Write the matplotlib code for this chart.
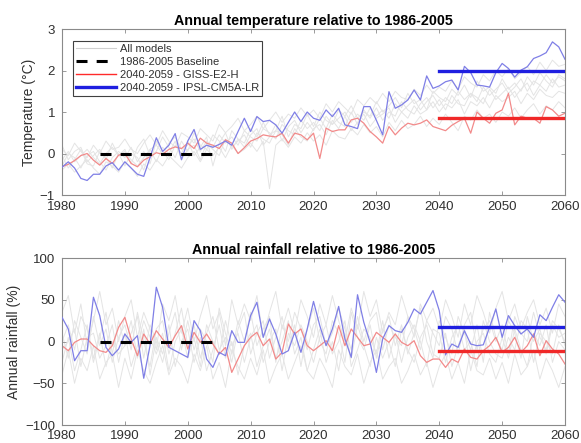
import numpy as np
import matplotlib
matplotlib.use("Agg")
import matplotlib.pyplot as plt
from matplotlib.lines import Line2D

plt.rcParams['font.family'] = ['Liberation Sans', 'DejaVu Sans']

years = np.arange(1980, 2061)

# ---- Annual temperature anomaly (deg C) ----
temp_giss = [
    -0.32, -0.26, -0.17, -0.05, 0.00, -0.16, -0.28, -0.12, -0.24, -0.04,
    0.00, -0.24, -0.32, -0.16, -0.08, 0.02, -0.02, 0.10, 0.16, 0.12,
    0.25, 0.12, 0.37, 0.25, 0.20, 0.12, 0.33, 0.25, 0.00, 0.14,
    0.30, 0.36, 0.45, 0.42, 0.40, 0.49, 0.25, 0.49, 0.45, 0.33,
    0.49, -0.12, 0.61, 0.53, 0.57, 0.57, 0.81, 0.85, 0.73, 0.53,
    0.40, 0.25, 0.65, 0.45, 0.61, 0.73, 0.69, 0.73, 0.81, 0.65,
    0.60, 0.55, 0.68, 0.77, 0.85, 0.49, 1.00, 0.85, 0.73, 0.97,
    1.05, 1.45, 0.69, 0.90, 0.85, 0.85, 0.73, 1.13, 1.05, 0.90,
    0.97]
temp_ipsl = [
    -0.33, -0.20, -0.35, -0.60, -0.65, -0.50, -0.50, -0.30, -0.22, -0.40,
    -0.20, -0.35, -0.50, -0.55, -0.10, 0.38, 0.05, 0.20, 0.48, -0.15,
    0.30, 0.58, 0.10, 0.20, 0.15, 0.22, 0.30, 0.20, 0.53, 0.85,
    0.53, 0.89, 0.77, 0.80, 0.69, 0.49, 0.75, 1.00, 0.77, 1.00,
    0.85, 0.80, 1.05, 0.89, 1.09, 0.69, 0.65, 0.60, 1.13, 1.13,
    0.80, 0.45, 1.49, 1.09, 1.17, 1.29, 1.53, 1.29, 1.87, 1.57,
    1.63, 1.73, 1.77, 1.53, 2.10, 1.95, 1.65, 1.63, 1.60, 1.95,
    2.17, 2.05, 1.84, 2.01, 2.09, 2.29, 2.35, 2.43, 2.69, 2.57,
    2.27]
temp_models = [
    [-0.15, 0.05, -0.20, -0.05, 0.10, -0.10, -0.25, 0.00, 0.15, -0.05,
     0.05, -0.15, -0.30, -0.10, 0.10, 0.20, 0.00, 0.25, 0.40, 0.10,
     0.20, 0.35, 0.05, 0.30, 0.15, 0.45, 0.25, 0.40, 0.20, 0.55,
     0.40, 0.30, 0.60, 0.50, 0.35, 0.70, 0.55, 0.45, 0.80, 0.60,
     0.75, 0.55, 0.90, 0.70, 0.85, 1.00, 0.75, 0.95, 0.80, 1.10,
     0.90, 1.05, 0.85, 1.20, 1.00, 1.15, 1.30, 1.05, 1.25, 1.40,
     1.15, 1.35, 1.20, 1.50, 1.30, 1.45, 1.25, 1.60, 1.40, 1.55,
     1.70, 1.45, 1.60, 1.80, 1.50, 1.75, 1.65, 1.90, 1.70, 1.85, 1.75],
    [-0.40, -0.25, -0.45, -0.30, -0.15, -0.35, -0.50, -0.20, -0.30, -0.45,
     -0.20, -0.35, -0.55, -0.25, -0.40, -0.15, -0.30, -0.05, -0.20, -0.35,
     -0.10, 0.05, -0.20, 0.10, -0.05, 0.15, -0.10, 0.20, 0.00, 0.10,
     0.25, 0.05, 0.30, -0.85, 0.20, 0.35, 0.15, 0.40, 0.25, 0.50,
     0.30, 0.45, 0.20, 0.55, 0.40, 0.35, 0.60, 0.45, 0.70, 0.50,
     0.65, 0.40, 0.75, 0.55, 0.80, 0.60, 0.70, 0.90, 0.65, 0.85,
     0.70, 0.95, 0.75, 0.55, 0.90, 0.80, 1.05, 0.85, 0.95, 0.75,
     1.00, 0.90, 1.10, 0.85, 1.05, 1.20, 0.95, 1.15, 1.05, 1.25, 1.10],
    [0.10, -0.05, 0.25, 0.05, -0.10, 0.20, 0.00, 0.30, 0.10, 0.15,
     0.35, 0.10, 0.00, 0.25, 0.45, 0.20, 0.55, 0.30, 0.15, 0.50,
     0.40, 0.25, 0.60, 0.45, 0.30, 0.70, 0.50, 0.65, 0.85, 0.55,
     0.70, 0.90, 0.60, 0.80, 1.00, 0.75, 0.95, 0.85, 1.10, 0.90,
     1.05, 0.85, 1.20, 1.00, 1.25, 1.10, 0.95, 1.30, 1.15, 1.35,
     1.20, 1.45, 1.25, 1.50, 1.35, 1.30, 1.55, 1.40, 1.65, 1.45,
     1.60, 1.50, 1.75, 1.55, 1.85, 1.70, 1.60, 1.90, 1.75, 2.00,
     1.85, 2.05, 1.80, 1.95, 2.10, 1.90, 2.20, 2.00, 2.25, 2.10, 2.15],
    [-0.30, 0.00, -0.10, -0.35, -0.05, 0.05, -0.20, -0.40, -0.10, 0.05,
     -0.10, 0.15, -0.20, 0.05, -0.25, 0.30, 0.05, -0.15, 0.20, 0.00,
     0.30, -0.05, 0.15, 0.40, -0.30, 0.25, 0.50, 0.10, 0.35, 0.15,
     0.45, 0.60, 0.20, 0.40, 0.70, 0.30, 0.65, 0.80, 0.50, 0.75,
     0.55, 0.85, 0.60, 0.95, 0.75, 0.65, 1.00, 0.70, 1.05, 0.85,
     1.10, 0.80, 1.00, 0.90, 1.25, 1.05, 0.95, 1.20, 1.35, 1.10,
     1.30, 1.05, 1.40, 1.20, 1.15, 1.45, 1.35, 1.20, 1.55, 1.30,
     1.45, 1.60, 1.35, 1.55, 1.70, 1.40, 1.65, 1.50, 1.80, 1.60, 1.65],
    [0.20, -0.15, 0.05, 0.15, -0.20, -0.05, 0.10, -0.15, 0.25, -0.05,
     0.10, -0.25, 0.15, 0.35, -0.05, 0.05, 0.40, 0.15, -0.10, 0.30,
     0.05, 0.50, 0.20, 0.10, 0.45, 0.30, 0.05, 0.55, 0.35, 0.25,
     0.60, 0.40, 0.75, 0.45, 0.55, 0.90, 0.40, 0.70, 0.60, 0.95,
     0.65, 1.00, 0.80, 0.70, 1.05, 0.90, 1.15, 0.85, 1.00, 0.90,
     1.25, 1.00, 1.15, 1.35, 1.10, 1.45, 1.20, 1.30, 1.05, 1.50,
     1.35, 1.25, 1.55, 1.40, 1.65, 1.35, 1.75, 1.50, 1.60, 1.45,
     1.80, 1.55, 1.70, 1.50, 1.85, 1.65, 1.95, 1.75, 1.60, 1.90, 1.80],
    [-0.05, -0.35, -0.15, 0.10, -0.25, -0.30, 0.05, -0.10, -0.35, 0.00,
     -0.30, 0.00, -0.10, -0.40, 0.10, -0.20, 0.15, 0.00, 0.30, -0.15,
     0.10, 0.20, -0.15, 0.25, 0.10, -0.05, 0.35, 0.15, 0.30, 0.45,
     0.15, 0.50, 0.35, 0.25, 0.55, 0.45, 0.20, 0.60, 0.40, 0.30,
     0.60, 0.70, 0.45, 0.80, 0.60, 0.90, 0.55, 0.75, 0.95, 0.65,
     0.85, 0.95, 1.10, 0.75, 1.00, 0.85, 1.15, 0.95, 1.05, 1.25,
     1.00, 1.20, 1.10, 1.30, 0.95, 1.25, 1.15, 1.35, 1.10, 1.40,
     1.25, 1.35, 1.50, 1.20, 1.45, 1.30, 1.55, 1.40, 1.35, 1.50, 1.45],
]
temp_future_mean = {'GISS-E2-H': 0.85, 'IPSL-CM5A-LR': 2.00}

# ---- Annual rainfall anomaly (%) ----
rain_giss = [
    -5, -11, -1, 3, 3, -5, -11, -13, -5, 17,
    29, 3, -17, 9, -3, 13, 3, -7, 7, 19,
    -9, 11, -1, 9, -3, -15, -7, -37, -21, -5,
    5, 11, -5, 3, -21, -13, 21, 9, 15, -5,
    -11, -5, 1, -11, 19, -5, 15, 5, -5, -3,
    11, 5, -1, 9, -1, -5, 1, -17, -25, -21,
    -21, -31, -21, -25, -9, -19, -21, -11, -5, 5,
    -13, -7, 5, -13, -5, 9, -17, 1, -9, -15,
    -27]
rain_ipsl = [
    29, 15, -23, -11, -11, 53, 31, -7, -17, -9,
    9, -1, 7, -44, -5, 65, 41, -7, -11, -15,
    -19, 25, 13, -21, -31, -13, -17, 13, -1, -1,
    31, 47, 5, 27, 9, -15, -11, 11, -13, 15,
    48, 19, -5, 15, 42, 3, -19, 56, 23, -1,
    -37, 3, 19, 13, 11, 23, 39, 33, 47, 61,
    37, -16, -3, -7, 13, -3, -5, -4, 17, 39,
    5, 31, 19, 9, 15, 5, 32, 25, 41, 56,
    47]
rain_models = [
    [10, -20, 25, 5, -15, 30, -5, 15, -25, 5,
     20, -10, 35, 0, -30, 15, 25, -15, 10, 40,
     -5, 20, -20, 10, 30, -10, 5, -25, 15, 35,
     -15, 10, 25, -20, 5, 30, -10, 20, -30, 15,
     40, 0, -15, 25, 10, -25, 35, 5, -10, 20,
     -20, 15, 30, -5, 20, -15, 10, 40, 0, -20,
     25, 5, -15, 30, 10, -10, 20, -25, 35, 5,
     -10, 25, 10, -20, 30, 0, 15, -15, 20, 5, 10],
    [-25, 5, -35, -10, 20, -20, 10, -30, 0, -15,
     -5, 25, -20, 15, -40, 5, -15, 20, -30, 0,
     15, -25, 5, -35, -10, 20, -20, 0, -40, -5,
     10, -30, -5, 15, -20, 0, 25, -15, 5, -35,
     -10, 15, -25, 0, -35, 10, -20, 20, -5, -30,
     5, -20, 0, -30, 15, -10, -25, 5, 20, -15,
     -20, 10, -30, -5, 15, -35, 0, 10, -15, -25,
     5, -20, 15, -10, -30, 10, -5, 20, -25, 0, -10],
    [35, 55, 10, 45, -5, 25, 60, 20, 40, 0,
     30, 50, 5, 35, 15, -10, 45, 25, 55, 10,
     40, 0, 30, 55, 15, 35, -5, 50, 20, 45,
     25, 55, 5, 35, 60, 15, 40, 10, 50, 30,
     5, 45, 20, 55, 25, 0, 40, 15, 60, 30,
     50, 10, 35, 20, 55, 30, 5, 45, 25, 40,
     15, 50, 30, 5, 45, 20, 55, 35, 10, 40,
     60, 25, 45, 15, 35, 50, 20, 40, 10, 45, 30],
    [-40, -10, -50, -20, -35, -5, -45, -25, -15, -55,
     -20, -45, -10, -35, -50, -25, -5, -40, -20, -30,
     -50, -15, -35, -5, -45, -25, -55, -10, -30, -45,
     -20, -40, -10, -50, -30, -15, -45, -25, -5, -35,
     -45, -20, -35, -55, -10, -30, -40, -15, -50, -25,
     -10, -45, -30, -20, -50, -35, -15, -40, -25, -55,
     -30, -15, -45, -25, -50, -10, -35, -40, -20, -45,
     -25, -50, -15, -40, -30, -10, -45, -20, -35, -55, -30],
    [0, 20, -10, 30, 15, -25, 5, 35, -15, 25,
     -5, 10, 30, -20, 20, 0, -25, 10, 35, -10,
     25, -10, 15, 0, -25, 40, 10, -15, 25, 0,
     35, -5, 15, 30, -25, 20, 0, 35, 15, -10,
     20, 30, -5, 10, 40, 15, -10, 30, 0, 25,
     35, -10, 20, 5, -5, 30, 15, -10, 25, 10,
     -5, 30, 15, -15, 20, 35, -10, 15, 25, 0,
     20, -15, 30, 10, 0, 35, 5, -10, 25, 15, 0],
    [-10, 0, 15, -30, 5, 10, -20, -5, 20, -25,
     10, -30, -5, 25, 5, -15, 10, -35, 0, 15,
     -20, 5, -30, 20, 0, -15, 25, -5, 10, -25,
     5, 20, -25, 0, 15, -35, 10, -5, 20, 0,
     -25, 5, 20, -15, 0, 25, -30, -10, 15, 5,
     -15, 25, -20, 10, -25, 5, 20, 0, -30, 15,
     10, -25, 5, 20, -10, 0, -30, 25, 0, -15,
     -20, 5, -10, 25, 15, -25, 10, 0, -15, 20, -5],
]
rain_future_mean = {'GISS-E2-H': -11.5, 'IPSL-CM5A-LR': 17.5}

baseline_period = [1986, 2005]
future_period = [2040, 2060]
xticks = [1980, 1990, 2000, 2010, 2020, 2030, 2040, 2050, 2060]

GRAY = '#e4e4e4'
RED_THIN = '#f28a8a'
BLUE_THIN = '#7f7fe6'
RED_BOLD = '#f02828'
BLUE_BOLD = '#1f1fe0'
FRAME = '#8a8a8a'
TEXT = '#303030'

fig = plt.figure(figsize=(5.81, 4.43), dpi=100)
ax_t = fig.add_axes([0.1067, 0.5598, 0.8658, 0.3747])
ax_r = fig.add_axes([0.1067, 0.0406, 0.8658, 0.3770])


def draw_panel(ax, models, giss, ipsl, means, ylim, yticks, ylabel, title,
               xpad):
    for m in models:
        ax.plot(years, m, color=GRAY, lw=0.7, zorder=1)
    ax.plot(years, giss, color=RED_THIN, lw=0.9, zorder=2)
    ax.plot(years, ipsl, color=BLUE_THIN, lw=0.9, zorder=3)
    ax.plot(baseline_period, [0, 0], color='black', lw=2.2,
            dashes=(3.6, 3.0), zorder=4)
    ax.plot(future_period, [means['IPSL-CM5A-LR']] * 2, color=BLUE_BOLD,
            lw=2.4, zorder=5)
    ax.plot(future_period, [means['GISS-E2-H']] * 2, color=RED_BOLD,
            lw=2.4, zorder=5)
    ax.set_xlim(1980, 2060)
    ax.set_ylim(*ylim)
    ax.set_xticks(xticks)
    ax.set_yticks(yticks)
    ax.tick_params(direction='in', length=3, width=0.6, color=FRAME,
                   top=True, right=True, labelsize=9.5, labelcolor=TEXT)
    ax.tick_params(axis='x', pad=xpad)
    ax.tick_params(axis='y', pad=5)
    for s in ax.spines.values():
        s.set_color(FRAME)
        s.set_linewidth(0.8)
    ax.set_ylabel(ylabel, fontsize=10, color=TEXT, labelpad=3)
    ax.set_title(title, fontsize=10.3, fontweight='bold', color='black',
                 pad=3)


draw_panel(ax_t, temp_models, temp_giss, temp_ipsl, temp_future_mean,
           (-1, 3), [-1, 0, 1, 2, 3], 'Temperature (\u00b0C)',
           'Annual temperature relative to 1986-2005', 4.5)
draw_panel(ax_r, rain_models, rain_giss, rain_ipsl, rain_future_mean,
           (-100, 100), [-100, -50, 0, 50, 100], 'Annual rainfall (%)',
           'Annual rainfall relative to 1986-2005', 3.5)

handles = [
    Line2D([], [], color='#d0d0d0', lw=0.8),
    Line2D([], [], color='black', lw=2.2, dashes=(3.6, 3.0)),
    Line2D([], [], color='#ff2a2a', lw=1.0),
    Line2D([], [], color=BLUE_BOLD, lw=2.4),
]
labels = ['All models', '1986-2005 Baseline', '2040-2059 - GISS-E2-H',
          '2040-2059 - IPSL-CM5A-LR']
leg = ax_t.legend(handles, labels, loc='upper left',
                  bbox_to_anchor=(0.022, 0.928), fontsize=8,
                  frameon=True, fancybox=False, framealpha=1,
                  edgecolor='#404040', borderpad=0.3, handlelength=3.6,
                  handletextpad=0.3, labelspacing=0.25, borderaxespad=0)
leg.get_frame().set_linewidth(0.8)
for t in leg.get_texts():
    t.set_color(TEXT)

fig.savefig('out.png', dpi=100)
